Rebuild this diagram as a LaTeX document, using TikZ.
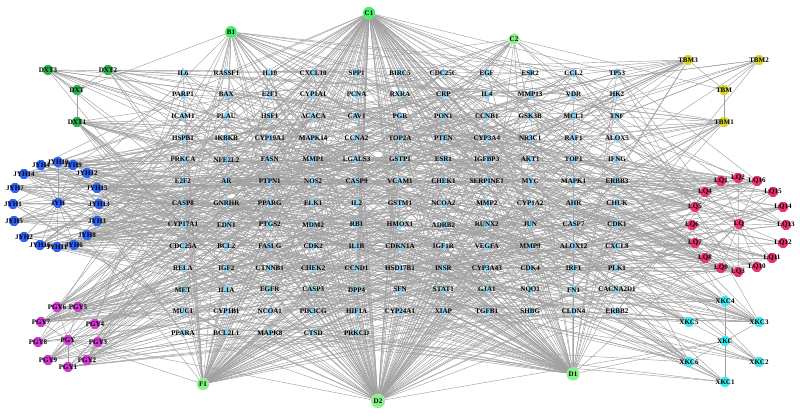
\documentclass[tikz,border=0pt]{standalone}
\usepackage{fontspec}
\setmainfont{Liberation Serif}
\usetikzlibrary{shapes.geometric,backgrounds}
\definecolor{tgtblue}{HTML}{8CCFEE}
\definecolor{dxtgreen}{HTML}{2DB04B}
\definecolor{jyhblue}{HTML}{3163F2}
\definecolor{pgypurple}{HTML}{D03BD0}
\definecolor{tbmyellow}{HTML}{D6D62A}
\definecolor{lqred}{HTML}{E8336F}
\definecolor{xkccyan}{HTML}{3BEBEF}
\definecolor{cpdgreen}{HTML}{48F06A}
\definecolor{cpdlight}{HTML}{8BF08B}
\begin{document}
\begin{tikzpicture}[x=0.02cm,y=-0.02cm,font=\bfseries\fontsize{4}{4}\selectfont,
  tgt/.style={diamond,fill=tgtblue,inner sep=0pt,minimum width=4.4pt,minimum height=6pt},
  herb/.style={regular polygon,regular polygon sides=8,inner sep=0pt,minimum size=6pt,fill=#1},
  cpd/.style={circle,inner sep=0pt,fill=cpdlight,minimum size=#1},
  link/.style={draw=gray!75,line width=0.25pt}]
  \useasboundingbox (0,0) rectangle (800,418);

  % 靶点网格
  \foreach \row [count=\j] in {
    {IL6,RASSF1,IL10,CXCL10,SPP1,BIRC5,CDC25C,EGF,ESR2,CCL2,TP53},
    {PARP1,BAX,E2F1,CYP1A1,PCNA,RXRA,CRP,IL4,MMP13,VDR,HK2},
    {ICAM1,PLAU,HSF1,ACACA,CAV1,PGR,PON1,CCNB1,GSK3B,MCL1,TNF},
    {HSPB1,IKBKB,CYP19A1,MAPK14,CCNA2,TOP2A,PTEN,CYP3A4,NR3C1,RAF1,ALOX5},
    {PRKCA,NFE2L2,FASN,MMP1,LGALS3,GSTP1,ESR1,IGFBP3,AKT1,TOP1,IFNG},
    {E2F2,AR,PTPN1,NOS2,CASP9,VCAM1,CHEK1,SERPINE1,MYC,MAPK1,ERBB3},
    {CASP8,GNRHR,PPARG,ELK1,IL2,GSTM1,NCOA2,MMP2,CYP1A2,AHR,CHUK},
    {CYP17A1,EDN1,PTGS2,MDM2,RB1,HMOX1,ADRB2,RUNX2,JUN,CASP7,CDK1},
    {CDC25A,BCL2,FASLG,CDK2,IL1B,CDKN1A,IGF1R,VEGFA,MMP9,ALOX12,CXCL8},
    {RELA,IGF2,CTNNB1,CHEK2,CCND1,HSD17B1,INSR,CYP3A43,CDK4,IRF1,PLK1},
    {MET,IL1A,EGFR,CASP3,DPP4,SFN,STAT1,GJA1,NQO1,FN1,CACNA2D1},
    {MUC1,CYP1B1,NCOA1,PIK3CG,HIF1A,CYP24A1,XIAP,TGFB1,SHBG,CLDN4,ERBB2},
    {PPARA,BCL2L1,MAPK8,CTSD,PRKCD}} {
    \foreach \g [count=\i] in \row {
      \pgfmathtruncatemacro\n{(\j-1)*11+\i}
      \node[tgt,alias=t\n,label={center:\g}] (\g) at ({183+43.4*(\i-1)},{73+21.67*(\j-1)}) {};
    }
  }

  % 药材中心
  \node[herb=dxtgreen,label=center:DXT] (DXT) at (77,90) {};
  \node[herb=jyhblue,label=center:JYH] (JYH) at (58,203) {};
  \node[herb=pgypurple,label=center:PGY] (PGY) at (68,340) {};
  \node[herb=tbmyellow,label=center:TBM] (TBM) at (724,90) {};
  \node[herb=lqred,label=center:LQ] (LQ) at (739,224) {};
  \node[herb=xkccyan,label=center:XKC] (XKC) at (725,341) {};

  % 成分
  \foreach \r/\x/\y in {1/77/122,2/108/70,3/48/70}
    \node[herb=dxtgreen,label=center:DXT\r] (DXT\r) at (\x,\y) {};
  \foreach \r/\x/\y in {1/724/122,2/759/60,3/688/60}
    \node[herb=tbmyellow,label=center:TBM\r] (TBM\r) at (\x,\y) {};
  \foreach \r/\x/\y in {10/58/162,4/41/165,9/73/165,14/24/174,12/87/173,7/15/188,
      15/97/188,1/13/204,13/99/204,5/14/221,3/97/221,2/24/237,8/87/235,16/40/245,
      6/74/245,11/57/247}
    \node[herb=jyhblue,label=center:JYH\r] (JYH\r) at (\x,\y) {};
  \foreach \r/\x/\y in {1/721/181,2/738/178,16/757/181,4/705/192,15/773/192,5/695/207,
      14/783/207,6/692/225,13/786/225,7/695/243,12/783/243,8/705/258,11/772/258,
      9/721/268,3/738/272,10/757/267}
    \node[herb=lqred,label=center:LQ\r] (LQ\r) at (\x,\y) {};
  \foreach \r/\x/\y in {6/57/307,5/78/307,7/41/322,4/95/324,8/38/342,3/98/342,
      9/48/360,2/87/360,1/68/367}
    \node[herb=pgypurple,label=center:PGY\r] (PGY\r) at (\x,\y) {};
  \foreach \r/\x/\y in {4/725/301,5/689/322,3/759/322,6/689/362,2/759/362,1/725/382}
    \node[herb=xkccyan,label=center:XKC\r] (XKC\r) at (\x,\y) {};

  % 共有成分
  \node[cpd=7pt,fill=cpdgreen,label=center:C1] (C1) at (369,13) {};
  \node[cpd=6.8pt,fill=cpdgreen,label=center:B1] (B1) at (231,32) {};
  \node[cpd=6.4pt,label=center:C2] (C2) at (514,39) {};
  \node[cpd=7pt,label=center:F1] (F1) at (203,384) {};
  \node[cpd=8pt,label=center:D2] (D2) at (378,401) {};
  \node[cpd=7.4pt,label=center:D1] (D1) at (573,374) {};

  % 连线
  \begin{pgfonlayer}{background}
    \pgfmathsetseed{7}
    \foreach \s/\p in {C1/0.72,D2/0.8,F1/0.5,D1/0.5,B1/0.22,C2/0.14}
      \foreach \k in {1,...,137} {
        \pgfmathtruncatemacro\hit{rnd<\p}
        \ifnum\hit=1 \draw[link] (\s) -- (t\k); \fi
      }
    \foreach \h/\m/\p in {JYH/16/0.08,LQ/16/0.07,PGY/9/0.09,XKC/6/0.09,DXT/3/0.12,TBM/3/0.1}
      \foreach \r in {1,...,\m} {
        \draw[link] (\h) -- (\h\r);
        \foreach \k in {1,...,137} {
          \pgfmathtruncatemacro\hit{rnd<\p}
          \ifnum\hit=1 \draw[link] (\h\r) -- (t\k); \fi
        }
      }
    \foreach \a/\b in {B1/DXT,B1/JYH,C1/JYH,C1/LQ,C2/TBM,C2/LQ,F1/PGY,F1/JYH,
        D2/PGY,D2/XKC,D1/XKC,D1/LQ}
      \draw[link] (\a) -- (\b);
  \end{pgfonlayer}
\end{tikzpicture}
\end{document}
